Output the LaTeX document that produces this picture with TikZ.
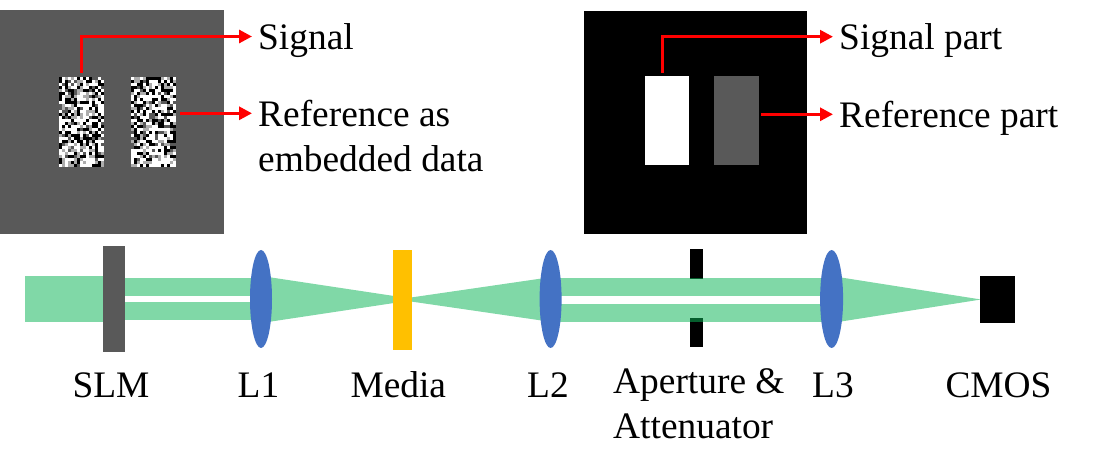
\documentclass[tikz,border=0pt]{standalone}
\usepackage{fontspec}
\setmainfont{Liberation Serif}
\usetikzlibrary{arrows.meta,shapes.geometric}
\definecolor{beamgreen}{HTML}{0BB557}
\definecolor{slmgray}{HTML}{595959}
\definecolor{lensblue}{HTML}{4472C4}
\definecolor{mediayellow}{HTML}{FFC000}
\tikzset{
    beam/.style={fill=beamgreen, fill opacity=0.52, draw=none},
    part/.style={rectangle, draw=none, inner sep=0pt, outer sep=0pt},
    lens/.style={ellipse, fill=lensblue, draw=none, inner sep=0pt, outer sep=0pt, minimum width=22, minimum height=98},
    pointer/.style={draw=red, line width=3pt, -{Triangle[length=13pt,width=13pt]}},
    lab/.style={anchor=west, inner xsep=6pt, inner ysep=0pt, text height=32pt, text depth=6pt, font=\fontsize{37.4}{44}\selectfont},
    partlab/.style={anchor=base, inner sep=0pt, font=\fontsize{37.4}{44}\selectfont}
}

\begin{document}
\begin{tikzpicture}[x=1pt, y=-1pt]

\def\cell{3}
\useasboundingbox (0,0) rectangle (1097,470);

%gray image with noise
\fill[slmgray] (0,10) rectangle (224,234);
\pgfmathsetseed{4711}
\foreach \x in {59,131}{
    \foreach \i in {0,...,14}{
        \foreach \j in {0,...,29}{
            \pgfmathrandominteger{\shade}{0}{9}
            \pgfmathtruncatemacro{\level}{\shade<3 ? 0 : (\shade<4 ? 35 : (\shade<6 ? 68 : 100))}
            \fill[white!\level!black] (\x+\i*\cell,77+\j*\cell) rectangle (\x+\i*\cell+\cell,77+\j*\cell+\cell);
        }
    }
}

%black image
\fill[black] (584,11) rectangle (807,234);
\fill[white] (645,76) rectangle (689,165);
\fill[slmgray] (714,76) rectangle (759,165);

%aperture below the beam
\node (aptop) [part, fill=black, minimum width=13, minimum height=30] at (696.5,264) {};
\node (apbot) [part, fill=black, minimum width=13, minimum height=29] at (696.5,332.5) {};

%beam
\fill[beam] (25,276) rectangle (103,322);
\fill[beam] (125,278) rectangle (255,296);
\fill[beam] (125,302) rectangle (255,320);
\fill[beam] (268,277) -- (394,296) -- (394,303) -- (268,322) -- cycle;
\fill[beam] (411,297.5) -- (545,278) -- (545,321) -- (411,301.5) -- cycle;
\fill[beam] (556,278) rectangle (826,296);
\fill[beam] (556,304) rectangle (826,322);
\fill[beam] (838,277) -- (981,299.5) -- (838,322) -- cycle;

%parts
\node (slm) [part, fill=slmgray, minimum width=22, minimum height=106] at (114,299) {};
\node (lone) [lens] at (261,299) {};
\node (media) [part, fill=mediayellow, minimum width=19, minimum height=100] at (402.5,300) {};
\node (ltwo) [lens] at (550.6,299) {};
\node (lthree) [lens, minimum width=23] at (831.6,299) {};
\node (cmos) [part, fill=black, minimum width=35, minimum height=47] at (997.5,299.5) {};

%labels
\node (siglabel) [lab] at (252,36.5) {Signal};
\node (reflabel) [lab] at (252,113.3) {Reference as};
\node (embedlabel) [lab] at (252,158.7) {embedded data};
\node (sigpart) [lab] at (833,36.7) {Signal part};
\node (refpart) [lab] at (833,114.3) {Reference part};

\node (slmtext) [partlab] at (111,397.7) {SLM};
\node (lonetext) [partlab] at (258.5,397.7) {L1};
\node (mediatext) [partlab] at (398.3,397.7) {Media};
\node (ltwotext) [partlab] at (548,397.7) {L2};
\node (aptext) [partlab, anchor=base west] at (613,393) {Aperture \&};
\node (attext) [partlab, anchor=base west] at (613,438) {Attenuator};
\node (lthreetext) [partlab] at (833,397.7) {L3};
\node (cmostext) [partlab] at (998.5,397.7) {CMOS};

%red arrows
\coordinate (sigstart) at (81,73);
\coordinate (refstart) at (180,113.3);
\coordinate (sigpartstart) at (662,73);
\coordinate (refpartstart) at (761,114.3);
\draw[pointer] (sigstart) |- (siglabel.west);
\draw[pointer] (refstart) -- (reflabel.west);
\draw[pointer] (sigpartstart) |- (sigpart.west);
\draw[pointer] (refpartstart) -- (refpart.west);

\end{tikzpicture}
\end{document}
